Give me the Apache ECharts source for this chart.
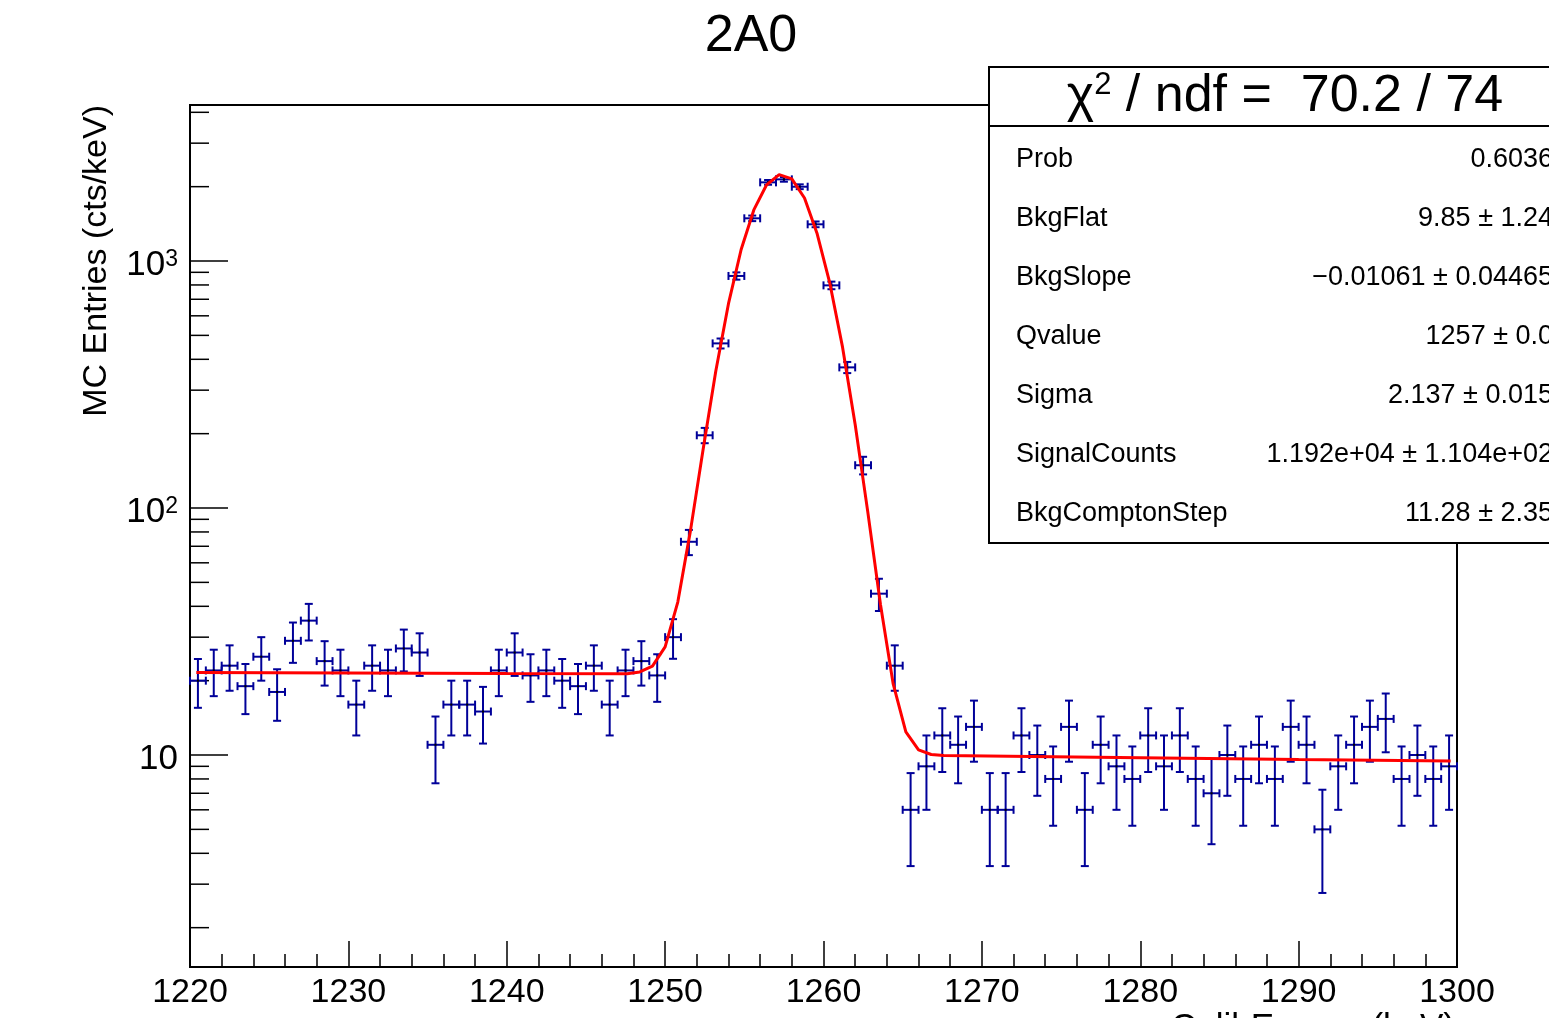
<!DOCTYPE html>
<html>
<head>
<meta charset="utf-8">
<script src="https://cdn.jsdelivr.net/npm/echarts@6/dist/echarts.min.js"></script>
<style>
html,body{margin:0;padding:0;background:#ffffff;}
#chart{width:1549px;height:1018px;}
</style>
</head>
<body>
<div id="chart"></div>
<script>
// ---------------- data ----------------
const binCenters = [
  1220.5,1221.5,1222.5,1223.5,1224.5,1225.5,1226.5,1227.5,1228.5,1229.5,
  1230.5,1231.5,1232.5,1233.5,1234.5,1235.5,1236.5,1237.5,1238.5,1239.5,
  1240.5,1241.5,1242.5,1243.5,1244.5,1245.5,1246.5,1247.5,1248.5,1249.5,
  1250.5,1251.5,1252.5,1253.5,1254.5,1255.5,1256.5,1257.5,1258.5,1259.5,
  1260.5,1261.5,1262.5,1263.5,1264.5,1265.5,1266.5,1267.5,1268.5,1269.5,
  1270.5,1271.5,1272.5,1273.5,1274.5,1275.5,1276.5,1277.5,1278.5,1279.5,
  1280.5,1281.5,1282.5,1283.5,1284.5,1285.5,1286.5,1287.5,1288.5,1289.5,
  1290.5,1291.5,1292.5,1293.5,1294.5,1295.5,1296.5,1297.5,1298.5,1299.5
];
const counts = [
  20,22,23,19,25,18,29,35,24,22,
  16,23,22,27,26,11,16,16,15,22,
  26,21,22,20,19,23,16,22,24,21,
  30,73,197,464,870,1489,2082,2141,1999,1408,
  797,371,149,45,23,6,9,12,11,13,
  6,6,12,10,8,13,6,11,9,8,
  12,9,12,8,7,10,8,11,8,13,
  11,5,9,11,13,14,8,10,8,9
];
const fitX = [1220.4,1230.0,1240.0,1247.6,1248.4,1249.2,1250.0,1250.8,1251.6,1252.4,
  1253.2,1254.0,1254.8,1255.6,1256.4,1257.2,1258.0,1258.8,1259.6,1260.4,
  1261.2,1262.0,1262.8,1263.6,1264.4,1265.2,1266.0,1266.8,1267.6,1280.0,1290.0,1299.6];
const fitY = [21.6,21.5,21.4,21.35,21.7,22.9,27.4,41.6,81,173,
  359,672,1113,1610,2031,2236,2150,1800,1288,813,
  449,218,96,40.6,19.4,12.4,10.5,10.05,9.95,9.75,9.6,9.46];
const xTickLabels = ['1220','1230','1240','1250','1260','1270','1280','1290','1300'];
const yMinorTicks = [2,3,4,5,6,7,8,9,20,30,40,50,60,70,80,90,200,300,400,500,600,700,800,900,2000,3000,4000];
const statsHeader = '70.2 / 74';
const statsNames  = ['Prob','BkgFlat','BkgSlope','Qvalue','Sigma','SignalCounts','BkgComptonStep'];
const statsValues = ['0.6036','9.85 \u00b1 1.24','\u22120.01061 \u00b1 0.04465','1257 \u00b1 0.0','2.137 \u00b1 0.015','1.192e+04 \u00b1 1.104e+02','11.28 \u00b1 2.35'];

// ---------------- chart ----------------
const FONT = '"Liberation Sans", Arial, Helvetica, sans-serif';
const BLUE = '#000099';
const chart = echarts.init(document.getElementById('chart'), null, {renderer:'canvas'});

const pts = binCenters.map((x, i) => [x, counts[i]]);
const fit = fitX.map((x, i) => [x, fitY[i]]);

const statsGraphics = [];
statsGraphics.push({type:'rect', z:100, shape:{x:989, y:67, width:620, height:476},
  style:{fill:'#fff', stroke:'#000', lineWidth:2}});
statsGraphics.push({type:'line', z:101, shape:{x1:989, y1:126, x2:1560, y2:126},
  style:{stroke:'#000', lineWidth:2}});
statsGraphics.push({type:'text', z:102, x:1285, y:97,
  style:{text:'{a|\u03c7}{s|2}{a| / ndf =  ' + statsHeader + '}', align:'center', verticalAlign:'middle',
    rich:{a:{fontSize:52, fontFamily:FONT, lineHeight:54, fill:'#000'},
          s:{fontSize:31, fontFamily:FONT, lineHeight:32, verticalAlign:'top', fill:'#000'}}}});
statsNames.forEach((n, i) => {
  const y = 160 + 59 * i;
  statsGraphics.push({type:'text', z:102, x:1016, y:y,
    style:{text:n, fontSize:27, fontFamily:FONT, fill:'#000', align:'left', verticalAlign:'middle'}});
  statsGraphics.push({type:'text', z:102, x:1553, y:y,
    style:{text:statsValues[i], fontSize:27, fontFamily:FONT, fill:'#000', align:'right', verticalAlign:'middle'}});
});

const option = {
  animation: false,
  backgroundColor: '#ffffff',
  grid: {left:190, top:105, width:1267, height:862, show:true, borderColor:'#000', borderWidth:2, backgroundColor:'transparent'},
  xAxis: {
    type:'value', min:1220, max:1300, interval:10,
    axisLine:{show:true, onZero:false, lineStyle:{color:'#000', width:2}},
    axisTick:{show:true, inside:true, length:26, lineStyle:{color:'#000', width:1.5}},
    minorTick:{show:true, splitNumber:5, length:13, lineStyle:{color:'#000', width:1.5}},
    splitLine:{show:false}, minorSplitLine:{show:false},
    axisLabel:{show:true, margin:9, fontSize:34, fontFamily:FONT, color:'#000',
      formatter: v => { const s = String(Math.round(v)); return xTickLabels.indexOf(s) >= 0 ? s : ''; }}
  },
  yAxis: {
    type:'log', logBase:10, min:1.386, max:4282,
    axisLine:{show:true, lineStyle:{color:'#000', width:2}},
    axisTick:{show:true, inside:true, length:38, lineStyle:{color:'#000', width:1.5}},
    splitLine:{show:false},
    axisLabel:{show:true, margin:12, showMinLabel:false, showMaxLabel:false, color:'#000',
      padding:[9,0,0,0],
      formatter: v => {
        if (Math.abs(v - 10) < 1e-6) return '{n|10}';
        if (Math.abs(v - 100) < 1e-6) return '{n|10}{s|2}';
        if (Math.abs(v - 1000) < 1e-6) return '{n|10}{s|3}';
        return '';
      },
      rich:{n:{fontSize:35, fontFamily:FONT, lineHeight:34, color:'#000'},
            s:{fontSize:23, fontFamily:FONT, lineHeight:14, verticalAlign:'top', color:'#000'}}
    }
  },
  graphic: [
    {type:'text', x:751, y:37, style:{text:'2A0', fontSize:52, fontFamily:FONT, fill:'#000', align:'center', verticalAlign:'middle'}},
    {type:'text', x:97, y:105, rotation:Math.PI/2,
      style:{text:'MC Entries (cts/keV)', fontSize:34, fontFamily:FONT, fill:'#000', align:'right', verticalAlign:'middle'}},
    {type:'text', x:1455, y:1028,
      style:{text:'CalibEnergy (keV)', fontSize:35, fontFamily:FONT, fill:'#000', align:'right', verticalAlign:'middle'}}
  ].concat(statsGraphics),
  series: [
    {
      type:'custom', name:'minorTicks', z:1, silent:true,
      data: yMinorTicks.map(v => [1220, v]),
      renderItem: (params, api) => {
        const p = api.coord([api.value(0), api.value(1)]);
        return {type:'line', shape:{x1:p[0], y1:p[1], x2:p[0] + 19, y2:p[1]},
          style:{stroke:'#000', lineWidth:1.5}};
      }
    },
    {
      type:'custom', name:'data', z:3, silent:true,
      data: pts,
      renderItem: (params, api) => {
        const x = api.value(0), y = api.value(1), e = Math.sqrt(y);
        const c = api.coord([x, y]);
        const l = api.coord([x - 0.5, y]);
        const r = api.coord([x + 0.5, y]);
        const t = api.coord([x, y + e]);
        const b = api.coord([x, y - e]);
        const cap = 4;
        const st = {stroke:BLUE, lineWidth:2};
        return {type:'group', children:[
          {type:'line', shape:{x1:l[0], y1:c[1], x2:r[0], y2:c[1]}, style:st},
          {type:'line', shape:{x1:l[0], y1:c[1]-cap, x2:l[0], y2:c[1]+cap}, style:st},
          {type:'line', shape:{x1:r[0], y1:c[1]-cap, x2:r[0], y2:c[1]+cap}, style:st},
          {type:'line', shape:{x1:c[0], y1:t[1], x2:c[0], y2:b[1]}, style:st},
          {type:'line', shape:{x1:c[0]-cap, y1:t[1], x2:c[0]+cap, y2:t[1]}, style:st},
          {type:'line', shape:{x1:c[0]-cap, y1:b[1], x2:c[0]+cap, y2:b[1]}, style:st},
          {type:'rect', shape:{x:c[0]-1, y:c[1]-1, width:2, height:2}, style:{fill:'#000'}}
        ]};
      }
    },
    {
      type:'line', name:'fit', z:5, data: fit, symbol:'none', smooth:false, silent:true,
      lineStyle:{color:'#ff0000', width:3}
    }
  ]
};
chart.setOption(option);
</script>
</body>
</html>
